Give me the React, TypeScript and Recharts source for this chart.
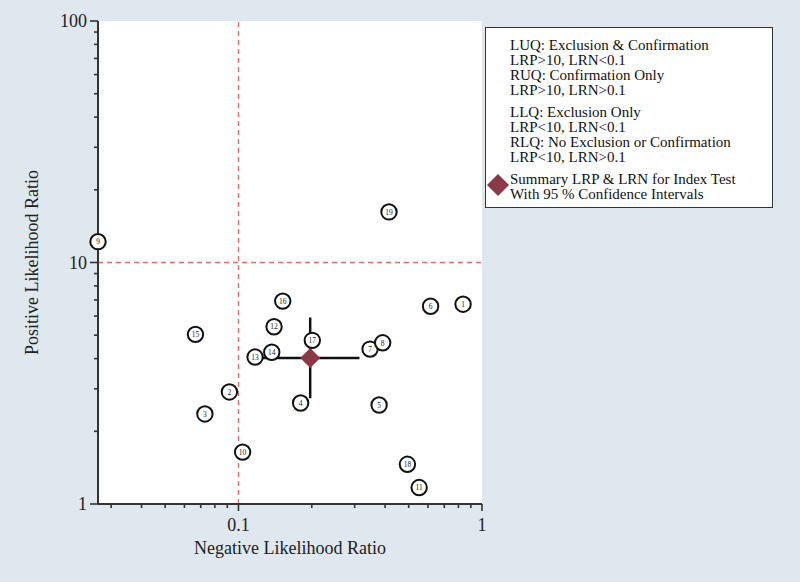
import React from 'react';
import {
  ScatterChart,
  Scatter,
  XAxis,
  YAxis,
  CartesianGrid,
  ReferenceLine,
} from 'recharts';

// study results: negative LR (x) and positive LR (y)
const studyIds = [1, 2, 3, 4, 5, 6, 7, 8, 9, 10, 11, 12, 13, 14, 15, 16, 17, 18, 19];
const lrnValues = [0.836, 0.0918, 0.0728, 0.18, 0.378, 0.615, 0.347, 0.391, 0.0265, 0.104, 0.552, 0.14, 0.117, 0.137, 0.0666, 0.152, 0.201, 0.494, 0.415];
const lrpValues = [6.72, 2.91, 2.36, 2.62, 2.57, 6.59, 4.38, 4.65, 12.2, 1.64, 1.17, 5.42, 4.06, 4.25, 5.04, 6.92, 4.76, 1.46, 16.2];

// summary point with 95% CI
const summaryLrn = [0.197];
const summaryLrp = [4.02];
const summaryLrnCi = [0.125, 0.314];
const summaryLrpCi = [2.74, 5.92];

// axes
const xMajorTicks = [0.1, 1];
const xMinorTicks = [0.03, 0.04, 0.05, 0.06, 0.07, 0.08, 0.09, 0.2, 0.3, 0.4, 0.5, 0.6, 0.7, 0.8, 0.9];
const yMajorTicks = [1, 10, 100];
const yMinorTicks = [2, 3, 4, 5, 6, 7, 8, 9, 20, 30, 40, 50, 60, 70, 80, 90];
const xDomain = [0.0265, 1];
const yDomain = [1, 100];
const xRefLine = 0.1;
const yRefLine = 10;

const legendGroups = [
  ['LUQ: Exclusion & Confirmation', 'LRP>10, LRN<0.1', 'RUQ: Confirmation Only', 'LRP>10, LRN>0.1'],
  ['LLQ: Exclusion Only', 'LRP<10, LRN<0.1', 'RLQ: No Exclusion or Confirmation', 'LRP<10, LRN>0.1'],
  ['Summary LRP & LRN for Index Test', 'With 95 % Confidence Intervals'],
];

const FONT = '"Liberation Serif", "Times New Roman", serif';
const BG = '#dee8ee';
const MAROON = '#8a3a47';
const REF_RED = '#e06b6b';

const studyData = studyIds.map((id, i) => ({ id, x: lrnValues[i], y: lrpValues[i] }));
const summaryData = summaryLrn.map((x, i) => ({ x, y: summaryLrp[i] }));

const fmt = (v: number) => (v >= 1 ? String(v) : v.toFixed(1));

const XTick = (props: any) => {
  const { x, y, payload } = props;
  const major = xMajorTicks.includes(payload.value);
  return (
    <g>
      <line x1={x} x2={x} y1={y} y2={y + (major ? 7 : 4)} stroke="#333" strokeWidth={1.6} />
      {major && (
        <text x={x} y={y + 27} textAnchor="middle" fontFamily={FONT} fontSize={18} fill="#222">
          {fmt(payload.value)}
        </text>
      )}
    </g>
  );
};

const YTick = (props: any) => {
  const { x, y, payload } = props;
  const major = yMajorTicks.includes(payload.value);
  return (
    <g>
      <line x1={x} x2={x - (major ? 8 : 4)} y1={y} y2={y} stroke="#333" strokeWidth={1.6} />
      {major && (
        <text x={x - 11} y={y + 6} textAnchor="end" fontFamily={FONT} fontSize={18} fill="#222">
          {fmt(payload.value)}
        </text>
      )}
    </g>
  );
};

const StudyMark = (props: any) => {
  const { cx, cy, payload } = props;
  return (
    <g>
      <circle cx={cx} cy={cy} r={7.7} fill="#fff" stroke="#111" strokeWidth={2} />
      <text x={cx} y={cy + 2.7} textAnchor="middle" fontFamily={FONT} fontSize={7.5} fill="#222">
        {payload.id}
      </text>
    </g>
  );
};

const SummaryMark = (props: any) => {
  const { cx, cy } = props;
  const h = 10;
  return (
    <polygon
      points={`${cx},${cy - h} ${cx + h},${cy} ${cx},${cy + h} ${cx - h},${cy}`}
      fill={MAROON}
    />
  );
};

export default function App() {
  return (
    <div style={{ position: 'relative', width: 800, height: 582, background: BG, fontFamily: FONT }}>
      <style>{'body{margin:0}'}</style>
      <ScatterChart
        width={800}
        height={582}
        margin={{ top: 21, right: 318, bottom: 38, left: 38 }}
      >
        <CartesianGrid fill="#fff" horizontal={false} vertical={false} />
        <XAxis
          type="number"
          dataKey="x"
          scale="log"
          domain={xDomain}
          ticks={[...xMinorTicks, ...xMajorTicks]}
          interval={0}
          tick={<XTick />}
          tickLine={false}
          tickSize={0}
          tickMargin={0}
          height={40}
          axisLine={{ stroke: '#333', strokeWidth: 2 }}
          label={{ value: 'Negative Likelihood Ratio', position: 'insideBottom', offset: -10, fontFamily: FONT, fontSize: 18, fill: '#222' }}
        />
        <YAxis
          type="number"
          dataKey="y"
          scale="log"
          domain={yDomain}
          ticks={[...yMinorTicks, ...yMajorTicks]}
          interval={0}
          tick={<YTick />}
          tickLine={false}
          tickSize={0}
          tickMargin={0}
          width={60}
          axisLine={{ stroke: '#333', strokeWidth: 2 }}
          label={{ value: 'Positive Likelihood Ratio', angle: -90, position: 'insideLeft', offset: -6, fontFamily: FONT, fontSize: 18, fill: '#222', style: { textAnchor: 'middle' } }}
        />
        <ReferenceLine x={xRefLine} stroke={REF_RED} strokeWidth={1.3} strokeDasharray="5 4" />
        <ReferenceLine y={yRefLine} stroke={REF_RED} strokeWidth={1.3} strokeDasharray="5 4" />
        <Scatter data={studyData} shape={<StudyMark />} isAnimationActive={false} />
        <Scatter data={summaryData} shape={<SummaryMark />} isAnimationActive={false} />
        <ReferenceLine
          segment={[{ x: summaryLrnCi[0], y: summaryLrp[0] }, { x: summaryLrnCi[1], y: summaryLrp[0] }]}
          stroke="#111"
          strokeWidth={2.5}
          ifOverflow="visible"
        />
        <ReferenceLine
          segment={[{ x: summaryLrn[0], y: summaryLrpCi[0] }, { x: summaryLrn[0], y: summaryLrpCi[1] }]}
          stroke="#111"
          strokeWidth={2.5}
          ifOverflow="visible"
        />
      </ScatterChart>
      <div
        style={{
          position: 'absolute',
          left: 485,
          top: 27,
          width: 286,
          height: 179,
          background: '#fff',
          border: '1.5px solid #333',
          fontSize: 15,
          lineHeight: '15px',
          color: '#111',
        }}
      >
        <div style={{ position: 'absolute', left: 24, top: 10 }}>
          {legendGroups.map((group, gi) => (
            <div key={gi} style={{ marginBottom: 7, whiteSpace: 'nowrap' }}>
              {group.map((line) => (
                <div key={line}>{line}</div>
              ))}
            </div>
          ))}
        </div>
        <svg width={24} height={24} style={{ position: 'absolute', left: 0, top: 145 }}>
          <polygon points="12,1 23,12 12,23 1,12" fill={MAROON} />
        </svg>
      </div>
    </div>
  );
}
